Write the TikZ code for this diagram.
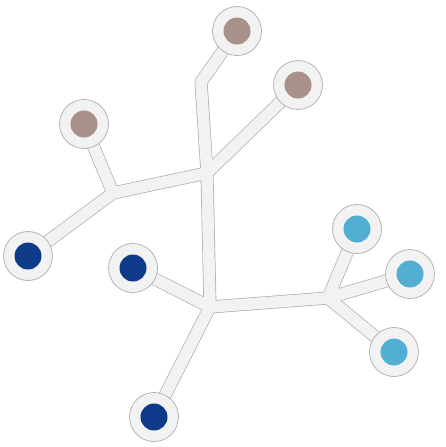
\documentclass[tikz,border=0pt]{standalone}
\begin{document}
\begin{tikzpicture}[x=1pt,y=-1pt,
  wireout/.style={draw=black!32, line width=13pt, line join=round, line cap=round},
  wirein/.style={draw=black!5, line width=11.6pt, line join=round, line cap=round},
  pad/.style={circle, draw=black!32, line width=0.7pt, fill=black!5, minimum size=49pt, inner sep=0pt},
  dottaupe/.style={circle, fill=taupe, minimum size=27pt, inner sep=0pt},
  dotblue/.style={circle, fill=darkblue, minimum size=27pt, inner sep=0pt},
  dotlight/.style={circle, fill=lightblue, minimum size=27pt, inner sep=0pt}]
\definecolor{taupe}{HTML}{A89188}
\definecolor{darkblue}{HTML}{0F3A8A}
\definecolor{lightblue}{HTML}{53AED3}
\useasboundingbox (0,0) rectangle (445,447);
% centres
\coordinate (c1) at (237,31);
\coordinate (c2) at (298,85);
\coordinate (c3) at (84,124);
\coordinate (c4) at (28,256);
\coordinate (c5) at (133,268);
\coordinate (c6) at (357,229);
\coordinate (c7) at (410,274);
\coordinate (c8) at (394,352);
\coordinate (c9) at (154,417);
% junctions
\coordinate (b1) at (201,82);
\coordinate (j1) at (207,173);
\coordinate (j2) at (113,193);
\coordinate (j3) at (210,307);
\coordinate (j4) at (328,298);
% wires
\foreach \s in {wireout,wirein}{
  \draw[\s] (c1) -- (b1) -- (j1) -- (j3);
  \draw[\s] (c2) -- (j1);
  \draw[\s] (j1) -- (j2) -- (c4);
  \draw[\s] (c3) -- (j2);
  \draw[\s] (c5) -- (j3) -- (c9);
  \draw[\s] (j3) -- (j4);
  \draw[\s] (c6) -- (j4) -- (c7);
  \draw[\s] (j4) -- (c8);
}
% pads
\foreach \i in {1,...,9}{ \node[pad] (p\i) at (c\i) {}; }
\node[dottaupe] (d1) at (c1) {};
\node[dottaupe] (d2) at (c2) {};
\node[dottaupe] (d3) at (c3) {};
\node[dotblue] (d4) at (c4) {};
\node[dotblue] (d5) at (c5) {};
\node[dotlight] (d6) at (c6) {};
\node[dotlight] (d7) at (c7) {};
\node[dotlight] (d8) at (c8) {};
\node[dotblue] (d9) at (c9) {};
\end{tikzpicture}
\end{document}
